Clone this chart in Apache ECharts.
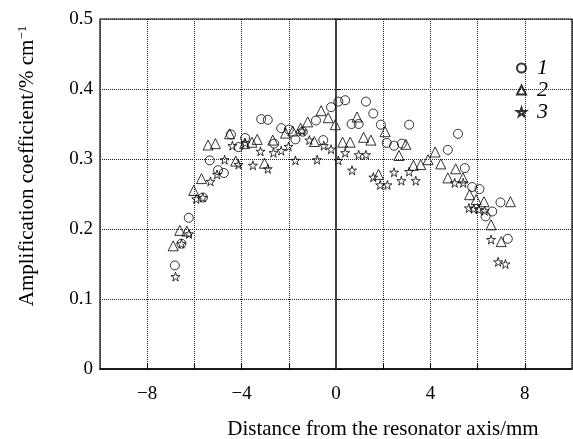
<!DOCTYPE html>
<html>
<head>
<meta charset="utf-8">
<script src="https://cdn.jsdelivr.net/npm/echarts@6/dist/echarts.min.js"></script>
<style>
    html, body { margin: 0; padding: 0; background: #fff; }
    #chart { width: 573px; height: 439px; }
</style>
</head>
<body>
<div id="chart"></div>
<script>
// series 1 - circles
const series1 = [
    [-6.83, 0.148], [-6.55, 0.179], [-6.24, 0.216], [-5.64, 0.245], [-5.35, 0.298],
    [-5.0, 0.284], [-4.75, 0.28], [-4.45, 0.335], [-4.13, 0.317], [-3.85, 0.33],
    [-3.17, 0.357], [-2.89, 0.356], [-2.62, 0.322], [-2.32, 0.344], [-2.0, 0.342],
    [-1.72, 0.328], [-1.41, 0.339], [-0.85, 0.355], [-0.54, 0.327], [-0.21, 0.374],
    [0.1, 0.382], [0.39, 0.384], [0.66, 0.35], [0.96, 0.35], [1.27, 0.382],
    [1.58, 0.365], [1.9, 0.349], [2.15, 0.323], [2.46, 0.319], [2.79, 0.322],
    [3.1, 0.349], [4.74, 0.313], [5.17, 0.336], [5.46, 0.287], [5.77, 0.26],
    [6.08, 0.257], [6.34, 0.218], [6.62, 0.225], [6.97, 0.238], [7.28, 0.186]
]
// series 2 - triangles
const series2 = [
    [-6.9, 0.176], [-6.62, 0.198], [-6.32, 0.197], [-6.03, 0.255], [-5.7, 0.272],
    [-5.42, 0.32], [-5.11, 0.322], [-4.51, 0.336], [-4.25, 0.297], [-3.87, 0.322],
    [-3.56, 0.324], [-3.34, 0.328], [-3.03, 0.294], [-2.68, 0.327], [-2.14, 0.337],
    [-1.83, 0.34], [-1.5, 0.344], [-1.2, 0.353], [-0.92, 0.325], [-0.63, 0.369],
    [-0.33, 0.359], [-0.03, 0.349], [0.28, 0.324], [0.6, 0.324], [0.89, 0.36],
    [1.17, 0.331], [1.48, 0.327], [1.8, 0.278], [2.08, 0.339], [2.67, 0.305],
    [2.96, 0.321], [3.28, 0.291], [3.59, 0.292], [3.9, 0.299], [4.2, 0.31],
    [4.44, 0.293], [4.74, 0.273], [5.07, 0.286], [5.38, 0.273], [5.66, 0.249],
    [5.94, 0.242], [6.27, 0.239], [6.57, 0.206], [7.0, 0.182], [7.39, 0.239]
]
// series 3 - stars
const series3 = [
    [-6.8, 0.132], [-6.55, 0.179], [-6.23, 0.193], [-5.92, 0.243], [-5.64, 0.245],
    [-5.32, 0.268], [-5.04, 0.278], [-4.72, 0.299], [-4.39, 0.319], [-4.13, 0.292],
    [-3.84, 0.323], [-3.52, 0.291], [-3.2, 0.311], [-2.89, 0.286], [-2.65, 0.309],
    [-2.32, 0.312], [-2.01, 0.318], [-1.72, 0.298], [-1.44, 0.34], [-1.13, 0.327],
    [-0.8, 0.299], [-0.52, 0.319], [-0.21, 0.314], [0.1, 0.298], [0.39, 0.309],
    [0.68, 0.284], [0.96, 0.306], [1.27, 0.306], [1.58, 0.274], [1.87, 0.263],
    [2.18, 0.263], [2.46, 0.281], [2.77, 0.269], [3.1, 0.282], [3.38, 0.269],
    [5.03, 0.266], [5.39, 0.266], [5.63, 0.23], [5.84, 0.229], [6.05, 0.228],
    [6.3, 0.226], [6.57, 0.185], [6.87, 0.153], [7.18, 0.15]
]
const seriesNames = ['1', '2', '3']
const xLabels = [-8, -4, 0, 4, 8]

const FONT = "'Liberation Serif', 'Times New Roman', serif"
const STAR = 'path://M50,0 L61,35 L98,35 L68,57 L79,91 L50,70 L21,91 L32,57 L2,35 L39,35 Z'

const chart = echarts.init(document.getElementById('chart'))

const markerStyle = {
    color: 'rgba(255,255,255,0)',
    borderColor: '#000',
    borderWidth: 1
}

chart.setOption({
    animation: false,
    textStyle: { fontFamily: FONT },
    grid: {
        left: 100, right: 1, top: 19, bottom: 70,
        outerBoundsMode: 'none',
        show: true, borderColor: '#000', borderWidth: 1.2
    },
    legend: {
        orient: 'vertical',
        left: 511, top: 52,
        itemWidth: 9, itemHeight: 9,
        itemGap: 0,
        textStyle: { fontFamily: FONT, fontStyle: 'italic', fontSize: 22, color: '#000', padding: [0, 0, 0, 6] },
        data: seriesNames
    },
    xAxis: {
        type: 'value',
        min: -10, max: 10, interval: 2,
        name: 'Distance from the resonator axis/mm',
        nameLocation: 'middle',
        nameGap: 50,
        nameTextStyle: { fontFamily: FONT, fontSize: 21, color: '#000', padding: [0, 0, 0, 94] },
        axisLine: { lineStyle: { color: '#000', width: 1.5 } },
        axisTick: { inside: true, length: 5, lineStyle: { color: '#000' } },
        axisLabel: {
            fontFamily: FONT, fontSize: 19, color: '#000', margin: 16,
            showMinLabel: false, showMaxLabel: false,
            formatter: v => xLabels.includes(v) ? String(v).replace('-', '\u2212') : ''
        },
        splitLine: { show: true, lineStyle: { color: '#222', type: 'dotted', width: 1 } }
    },
    yAxis: {
        type: 'value',
        min: 0, max: 0.5, interval: 0.1,
        name: 'Amplification coefficient/% cm{sup|\u22121}',
        nameLocation: 'middle',
        nameGap: 62,
        nameRotate: 90,
        nameTextStyle: {
            fontFamily: FONT, fontSize: 21, color: '#000', padding: [0, 0, 0, 56],
            rich: { sup: { fontFamily: FONT, fontSize: 13, color: '#000', verticalAlign: 'top', padding: [0, 0, 9, 0] } }
        },
        axisLine: { lineStyle: { color: '#000', width: 1.5 } },
        axisTick: { inside: true, length: 5, lineStyle: { color: '#000' } },
        axisLabel: {
            fontFamily: FONT, fontSize: 19, color: '#000', margin: 7,
            formatter: v => v === 0 ? '0' : v.toFixed(1)
        },
        splitLine: { show: true, lineStyle: { color: '#222', type: 'dotted', width: 1 } }
    },
    series: [
        {
            name: seriesNames[0], type: 'scatter', data: series1,
            symbol: 'circle', symbolSize: 9, itemStyle: markerStyle,
            markLine: {
                silent: true, symbol: 'none', label: { show: false },
                lineStyle: { color: '#444', type: 'solid', width: 1 },
                data: [{ xAxis: 0 }]
            }
        },
        {
            name: seriesNames[1], type: 'scatter', data: series2,
            symbol: 'triangle', symbolSize: 10, itemStyle: markerStyle
        },
        {
            name: seriesNames[2], type: 'scatter', data: series3,
            symbol: STAR, symbolSize: 9, itemStyle: markerStyle
        }
    ]
})
</script>
</body>
</html>
